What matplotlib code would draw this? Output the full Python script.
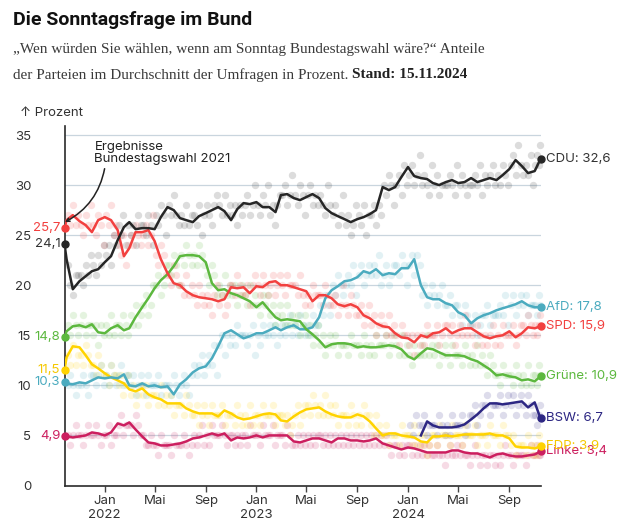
import matplotlib
matplotlib.use('Agg')
import matplotlib.pyplot as plt
import numpy as np
import pandas as pd

W, H = 637, 531

# averaged poll lines: election day, then 1st and 16th of each month, last on 15.11.2024
dates = ['2021-09-26']
for y, m in [(2021, 10), (2021, 11), (2021, 12)] + [(y, m) for y in (2022, 2023) for m in range(1, 13)] + [(2024, m) for m in range(1, 11)]:
    dates += [f'{y}-{m:02d}-01', f'{y}-{m:02d}-16']
dates += ['2024-11-01', '2024-11-15']
dates = pd.to_datetime(dates)

cdu = [24.1, 22.6, 19.6, 20.4, 20.9, 21.4, 21.6,
       22.3, 22.9, 24.5, 25.8, 26.3, 25.6, 25.7, 25.7, 25.6, 26.8, 27.8, 27.5,
       26.7, 26.5, 26.3, 26.9, 27.2, 27.5, 27.8, 27.4, 26.5, 27.6, 28.2, 28.1,
       28.3, 27.8, 27.8, 27.3, 29.0, 29.1, 28.7, 28.5, 28.8, 29.1, 28.7, 27.7,
       27.2, 26.9, 26.6, 26.3, 26.6, 26.8, 27.1, 27.5, 29.8, 29.5, 29.8, 30.8,
       31.8, 30.9, 30.7, 30.6, 30.2, 30.0, 30.3, 30.5, 30.2, 30.3, 30.7, 30.3,
       30.5, 30.7, 30.5, 31.0, 31.6, 32.5, 31.9, 31.2, 31.4, 32.6]
spd = [25.7, 26.5, 27.0, 26.4, 26.0, 25.3, 26.5,
       26.8, 26.5, 25.5, 22.9, 23.7, 25.3, 25.3, 25.5, 24.4, 22.6, 21.2, 20.2,
       20.0, 19.4, 19.0, 18.8, 18.7, 18.6, 18.4, 18.6, 19.8, 19.7, 19.8, 19.2,
       19.9, 19.8, 20.3, 20.4, 20.0, 20.0, 19.8, 19.6, 19.4, 18.4, 19.0, 19.0,
       18.7, 18.1, 17.9, 18.1, 17.8, 17.0, 16.7, 16.2, 15.9, 15.8, 15.2, 14.8,
       14.7, 14.3, 15.0, 14.8, 15.2, 15.3, 15.7, 15.2, 15.5, 15.7, 15.7, 15.3,
       14.9, 14.7, 14.9, 15.0, 15.4, 14.8, 15.2, 15.8, 15.7, 15.9]
gruene = [14.8, 15.4, 15.9, 16.0, 15.8, 16.1, 15.3,
          15.2, 15.7, 16.0, 15.5, 15.7, 16.8, 17.8, 18.7, 19.7, 20.5, 21.1, 21.9,
          22.9, 23.0, 23.0, 22.9, 22.3, 20.2, 19.5, 19.6, 19.2, 19.0, 18.7, 18.4,
          17.8, 18.3, 17.5, 16.8, 16.5, 16.6, 16.5, 16.4, 15.6, 15.1, 14.5, 13.8,
          14.1, 14.2, 14.2, 14.1, 13.8, 13.9, 13.8, 13.8, 13.9, 14.0, 13.9, 13.6,
          12.9, 12.6, 13.2, 13.7, 13.6, 13.3, 13.0, 13.0, 13.0, 12.9, 12.6, 12.4,
          12.0, 11.6, 11.0, 11.1, 10.9, 10.8, 10.5, 10.6, 10.4, 10.9]
afd = [10.3, 10.2, 10.1, 10.3, 10.2, 10.5, 10.8,
       10.7, 10.8, 10.7, 11.1, 10.0, 9.9, 10.2, 9.9, 10.0, 9.8, 9.9, 9.1,
       10.1, 10.6, 11.3, 11.7, 11.9, 12.7, 13.9, 15.2, 15.5, 15.1, 14.7, 14.9,
       15.2, 15.2, 15.5, 15.8, 15.5, 15.8, 16.0, 15.6, 15.6, 15.8, 16.8, 18.7,
       19.5, 19.9, 20.4, 20.5, 20.8, 21.4, 21.2, 21.6, 21.0, 21.2, 21.1, 21.7,
       21.7, 22.6, 20.0, 18.8, 18.6, 18.6, 18.2, 18.0, 17.3, 17.0, 16.2, 16.7,
       17.0, 17.2, 17.5, 17.7, 17.9, 18.1, 18.4, 18.0, 17.8, 17.8]
fdp = [11.5, 12.8, 13.9, 13.8, 13.0, 12.1, 11.7,
       11.2, 10.8, 10.5, 10.2, 9.6, 9.4, 9.7, 9.1, 8.8, 8.6, 8.2, 8.2,
       8.2, 7.7, 7.4, 7.2, 7.2, 7.2, 6.9, 7.5, 7.2, 6.8, 6.6, 6.7,
       6.9, 7.1, 7.2, 7.1, 6.5, 6.4, 6.9, 7.3, 7.6, 7.7, 7.8, 7.4,
       7.1, 6.9, 6.8, 6.8, 7.1, 6.9, 6.4, 5.7, 5.0, 5.2, 5.2, 5.0,
       4.9, 4.8, 4.4, 4.3, 4.9, 4.9, 5.0, 4.9, 5.0, 5.1, 5.1, 5.1,
       5.1, 5.2, 5.0, 5.0, 4.7, 3.9, 3.8, 3.8, 3.7, 3.9]
linke = [4.9, 4.9, 4.8, 4.9, 5.0, 5.3, 5.2,
         5.0, 5.3, 6.2, 6.0, 6.3, 5.6, 4.9, 4.3, 4.2, 4.0, 4.0, 4.1,
         4.2, 4.4, 4.7, 4.8, 5.0, 5.2, 5.0, 5.2, 4.5, 4.8, 4.7, 4.8,
         5.0, 4.8, 5.0, 5.0, 5.0, 5.0, 4.4, 4.3, 4.5, 4.7, 4.7, 4.5,
         4.3, 4.7, 4.7, 4.5, 4.5, 4.4, 4.5, 4.7, 4.2, 4.0, 3.8, 3.6,
         3.8, 3.7, 3.5, 3.3, 3.3, 3.3, 3.3, 3.5, 3.5, 3.3, 3.2, 3.2,
         3.0, 2.8, 3.1, 3.2, 3.0, 2.9, 2.9, 3.0, 3.1, 3.4]
# BSW only polled from February 2024 on (last 20 grid dates)
bsw = [5.0, 6.4, 6.0, 5.8, 5.8, 5.8, 5.9, 6.1, 6.6, 7.1, 7.7, 8.2, 8.2, 8.1,
       8.2, 8.3, 8.4, 7.8, 8.3, 6.7]

# single polls, per month (Oct 2021 .. Nov 2024)
cdu_polls = ["22 20 19 21 21", "21 20 22 21 23", "22 21 23 22 24", "23 24 22 25 24", "26 25 27 24 26",
             "25 26 24 27 26", "26 25 27 26 24", "27 26 28 27 25", "28 27 29 27 26", "27 26 28 26 27",
             "27 26 28 25 27", "28 27 26 28 29", "28 27 29 27 28", "27 28 26 28 27", "28 29 27 28 30",
             "28 27 29 28 30", "27 28 26 28 29", "29 30 28 29 31", "29 28 30 29 27", "29 30 28 29 28",
             "29 28 27 30 28", "27 28 26 27 29", "26 27 25 26 28", "27 26 28 25 27", "27 28 26 28 27",
             "30 29 31 30 28", "30 31 29 32 30", "31 32 30 31 33", "30 31 30 29 32", "30 31 29 30 30",
             "30 31 30 29 32", "30 31 30 29 30", "30 31 30 32 29", "31 30 31 32 30", "31 30 32 31 30",
             "32 33 31 34 32", "31 32 31 33 30", "32 33 32 34"]
afd_polls = ["10 11 10 9 10", "10 11 10 9 11", "11 10 11 12 10", "11 10 12 11 10", "11 12 10 11 11",
             "10 11 9 10 11", "10 9 11 10 10", "10 11 9 10 10", "10 9 11 10 9", "10 11 10 9 11",
             "12 11 12 13 11", "12 13 12 14 11", "14 15 13 15 14", "15 14 16 15 15", "15 14 15 16 13",
             "15 14 16 15 15", "16 15 16 14 15", "16 15 16 17 15", "16 15 17 16 15", "16 15 17 16 16",
             "18 17 19 18 17", "20 19 21 20 19", "20 21 20 22 19", "21 22 20 21 22", "21 22 21 23 20",
             "21 22 20 21 22", "22 21 23 22 20", "22 23 21 23 22", "19 20 18 19 20", "19 18 19 20 18",
             "18 19 17 18 18", "17 16 18 17 16", "16 17 15 16 17", "17 18 16 17 17", "17 18 17 19 16",
             "18 19 17 18 19", "18 19 17 18 18", "18 17 19 18"]
spd_polls = ["27 26 28 26 27", "26 25 27 26 28", "26 25 27 26 24", "27 26 28 25 26", "24 23 25 22 24",
             "25 24 26 25 24", "25 26 24 25 27", "23 22 24 23 21", "21 20 22 21 20", "20 19 21 19 20",
             "19 18 20 19 18", "19 18 17 19 20", "18 19 17 18 20", "20 19 21 20 19", "19 20 18 20 21",
             "20 19 21 20 19", "20 21 19 20 21", "20 19 21 20 20", "20 19 21 19 18", "19 18 20 19 19",
             "19 18 20 19 18", "18 19 17 18 20", "18 17 19 18 17", "17 18 16 17 18", "16 17 15 16 17",
             "16 15 17 15 16", "15 14 16 15 15", "14 15 13 15 14", "15 14 16 15 15", "15 16 14 15 16",
             "16 15 16 14 15", "16 15 17 15 16", "15 14 16 15 14", "15 14 15 16 14", "15 14 16 15 15",
             "15 16 14 15 16", "16 15 17 16 15", "16 15 16 17"]
gruene_polls = ["16 15 17 16 15", "16 17 15 16 16", "15 16 14 16 15", "16 15 17 15 16", "16 15 17 16 15",
                "17 16 18 16 17", "18 19 17 18 20", "20 21 19 20 22", "22 21 23 22 20", "23 22 24 23 22",
                "23 22 24 23 22", "21 20 22 21 19", "20 19 21 19 20", "19 20 18 19 20", "19 18 20 18 19",
                "18 17 19 18 19", "17 18 16 17 18", "17 16 18 16 17", "16 17 15 16 17", "15 16 14 15 16",
                "14 15 13 14 15", "14 15 13 14 14", "14 13 15 14 14", "14 13 15 14 13", "14 13 15 14 14",
                "14 15 13 14 15", "14 13 15 13 14", "13 12 14 13 13", "14 13 15 13 14", "13 14 12 13 14",
                "13 12 14 13 13", "13 12 14 13 12", "13 12 14 12 13", "12 11 13 12 11", "11 10 12 11 11",
                "11 10 12 11 10", "11 10 12 10 11", "11 10 12 11"]
fdp_polls = ["13 12 14 12 13", "13 12 14 13 12", "12 11 13 12 11", "11 10 12 11 11", "10 11 9 10 11",
             "9 10 8 9 10", "9 10 8 9 9", "9 8 10 8 9", "8 9 7 8 8", "8 7 9 8 7",
             "7 8 6 7 8", "7 6 8 7 7", "7 8 6 7 7", "7 6 8 7 6", "7 6 8 6 7",
             "7 6 8 7 7", "7 8 6 7 7", "7 6 7 5 6", "7 8 6 7 8", "8 7 9 8 7",
             "8 7 9 7 8", "7 8 6 7 7", "7 6 8 7 6", "7 6 8 7 7", "6 5 7 6 5",
             "5 6 4 5 5", "5 4 6 5 5", "5 4 6 4 5", "4 5 3 4 5", "5 4 6 5 5",
             "5 4 6 5 5", "5 4 6 5 5", "5 6 4 5 5", "5 4 6 5 5", "5 4 6 5 5",
             "4 5 3 4 4", "4 3 5 4 3", "4 3 5 4"]
linke_polls = ["5 4 5 6 5", "5 4 5 6 5", "5 6 5 4 5", "5 6 4 5 5", "6 7 5 6 6",
               "6 5 7 6 5", "5 4 4 5 4", "4 3 5 4 4", "4 3 5 4 4", "4 5 4 3 4",
               "5 4 5 6 4", "5 4 6 5 5", "5 6 5 4 5", "5 4 5 4 5", "5 4 6 5 5",
               "5 4 6 5 5", "5 6 4 5 5", "5 4 6 5 4", "4 5 4 5 4", "5 4 5 4 5",
               "5 4 5 4 5", "4 5 4 5 4", "5 4 5 4 5", "4 5 4 5 4", "5 4 5 4 5",
               "4 5 4 3 4", "4 3 4 3 4", "4 3 4 3 4", "3 4 3 4 3", "3 4 3 3 2",
               "3 4 3 3 4", "3 4 3 3 2", "3 4 3 2 3", "3 2 3 3 2", "3 2 3 4 3",
               "3 2 3 3 3", "3 2 3 4 3", "3 4 3 3"]
# BSW polls from January 2024
bsw_polls = ["6 5 7 6", "6 7 5 6 6", "6 5 7 6 5", "6 5 7 6 6", "6 7 5 6 7", "7 8 6 7 8",
             "8 9 7 8 8", "8 9 7 8 9", "8 9 7 8 9", "8 7 9 8 7", "7 6 7 8"]

parties = [
    # name, line, polls, color, text color
    ('Linke', linke, linke_polls, '#cc1f5f', '#cc1f5f'),
    ('FDP', fdp, fdp_polls, '#ffd300', '#f5c800'),
    ('BSW', bsw, bsw_polls, '#2d2783', '#2d2783'),
    ('AfD', afd, afd_polls, '#4babbf', '#4babbf'),
    ('Grüne', gruene, gruene_polls, '#5cb83e', '#5cb83e'),
    ('SPD', spd, spd_polls, '#f2403f', '#f2403f'),
    ('CDU', cdu, cdu_polls, '#262626', '#333333'),
]

plt.rcParams['font.family'] = ['Inter', 'DejaVu Sans']
fig = plt.figure(figsize=(W / 100, H / 100), dpi=100)
ax = fig.add_axes([64.5 / W, 1 - 485.5 / H, (540.5 - 64.5) / W, (485.5 - 126) / H])

month_starts = pd.date_range('2021-10-01', '2024-11-01', freq='MS')

for name, line, polls, col, tcol in parties:
    months = month_starts[-len(polls):]
    px, py = [], []
    for ms, s in zip(months, polls):
        vals = [float(v) for v in s.split()]
        span = 15 if ms == month_starts[-1] else ms.days_in_month
        for i, v in enumerate(vals):
            px.append(ms + pd.Timedelta(days=(i + 0.5) * span / len(vals)))
            py.append(v)
    ax.scatter(px, py, s=28, color=col, alpha=0.16, linewidths=0, zorder=1, clip_on=False)

for name, line, polls, col, tcol in parties:
    d = dates[-len(line):]
    ax.plot(d, line, color=col, lw=1.8, zorder=3, solid_joinstyle='round')
    ax.plot(d[-1], line[-1], 'o', color=col, ms=5, zorder=4, clip_on=False)
    ax.annotate(f'{name}: {line[-1]:.1f}'.replace('.', ','), (d[-1], line[-1]),
                xytext=(4, 0), textcoords='offset points', va='center', ha='left',
                color=tcol, fontsize=9.5, annotation_clip=False)
    if name != 'BSW':
        ax.plot(d[0], line[0], 'o', color=col, ms=5, zorder=4, clip_on=False)
        ax.annotate(f'{line[0]:.1f}'.replace('.', ','), (d[0], line[0]),
                    xytext=(-3, 0), textcoords='offset points', va='center', ha='right',
                    color=tcol, fontsize=9.5, annotation_clip=False)

for v in range(5, 36, 5):
    ax.axhline(v, color='#c9d5de', lw=0.9, zorder=0)

ax.set_xlim(dates[0], dates[-1])
ax.set_ylim(0, 35.9)
ax.set_yticks(range(0, 36, 5))
ax.tick_params(axis='y', length=0, pad=24, labelsize=9.5, labelcolor='#333333')

xt = pd.to_datetime(['2022-01-01', '2022-05-01', '2022-09-01', '2023-01-01', '2023-05-01',
                     '2023-09-01', '2024-01-01', '2024-05-01', '2024-09-01'])
xl = ['Jan\n2022', 'Mai', 'Sep', 'Jan\n2023', 'Mai', 'Sep', 'Jan\n2024', 'Mai', 'Sep']
ax.set_xticks(xt)
ax.set_xticklabels(xl, linespacing=1.15)
ax.tick_params(axis='x', length=4, width=1, color='#444444', pad=3, labelsize=9.5, labelcolor='#333333')

for s in ['top', 'right']:
    ax.spines[s].set_visible(False)
for s in ['left', 'bottom']:
    ax.spines[s].set_color('#2a2a2a')
    ax.spines[s].set_linewidth(1.2)

# annotation for the 2021 election
ax.annotate('Ergebnisse\nBundestagswahl 2021', xy=(pd.Timestamp('2021-09-27'), 26.3),
            xytext=(pd.Timestamp('2021-12-07'), 34.4), textcoords='data',
            ha='left', va='top', fontsize=9.5, color='#222222', linespacing=0.95,
            arrowprops=dict(arrowstyle='->', color='#222222', lw=1.1, mutation_scale=6,
                            shrinkA=1, shrinkB=0,
                            connectionstyle='arc3,rad=-0.25',
                            relpos=(0.08, 0.0)))

fig.text(20 / W, 1 - 113 / H, '↑ Prozent', fontsize=9.5, color='#333333', va='center', ha='left')

fig.text(13 / W, 1 - 20 / H, 'Die Sonntagsfrage im Bund', fontsize=14, fontweight='bold',
         fontstretch='condensed', family=['Roboto', 'DejaVu Sans'], color='#111111',
         va='center', ha='left')
serif = ['Liberation Serif', 'DejaVu Serif']
fig.text(13 / W, 1 - 49 / H, '„Wen würden Sie wählen, wenn am Sonntag Bundestagswahl wäre?“ Anteile',
         fontsize=11.0, family=serif, color='#3a3a3a', va='center', ha='left')
t2 = fig.text(13 / W, 1 - 75 / H, 'der Parteien im Durchschnitt der Umfragen in Prozent. ',
              fontsize=11.0, family=serif, color='#3a3a3a', va='center', ha='left')
fig.canvas.draw()
bb = t2.get_window_extent()
fig.text(bb.x1 / W, 1 - 75 / H, 'Stand: 15.11.2024', fontsize=11.0, fontweight='bold',
         family=serif, color='#222222', va='center', ha='left')

fig.savefig('out.png', dpi=100)
